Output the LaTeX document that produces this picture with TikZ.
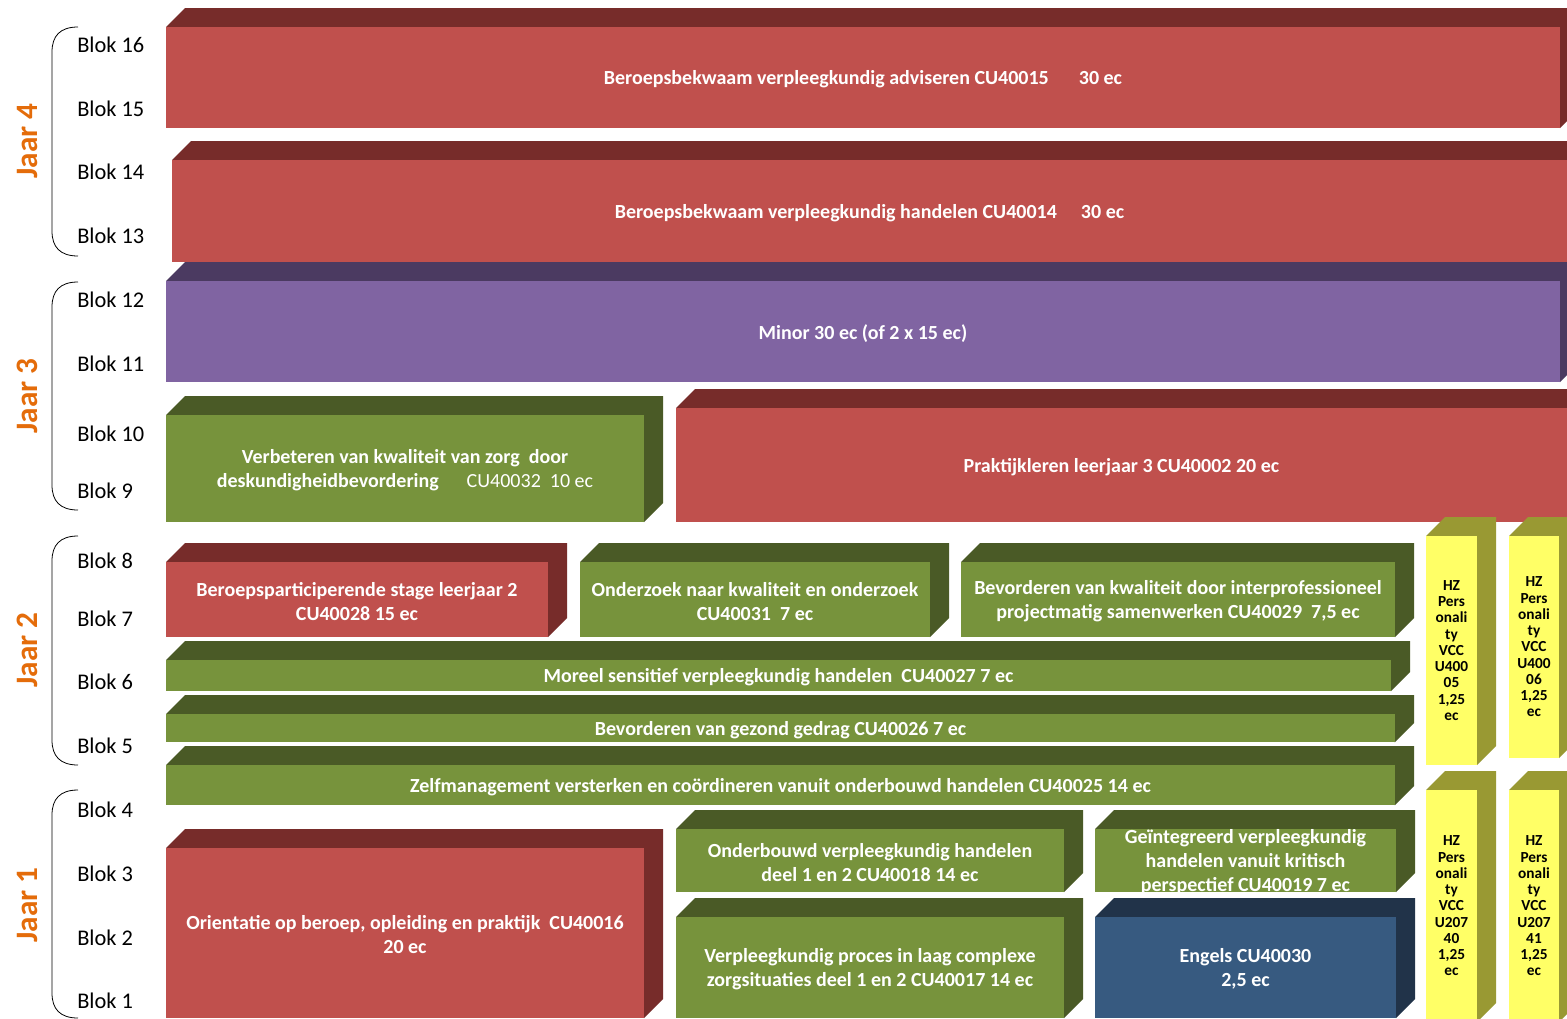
\documentclass[tikz,border=0pt]{standalone}
\usepackage{fontspec}
\setmainfont{Carlito}
\definecolor{red1}{HTML}{C0504D}
\definecolor{red2}{HTML}{772C2A}
\definecolor{grn1}{HTML}{77933C}
\definecolor{grn2}{HTML}{4A5A26}
\definecolor{pur1}{HTML}{8064A2}
\definecolor{pur2}{HTML}{4B3A61}
\definecolor{blu1}{HTML}{375A80}
\definecolor{blu2}{HTML}{213349}
\definecolor{yel1}{HTML}{FFFF66}
\definecolor{yel2}{HTML}{999933}
\definecolor{jaarc}{HTML}{E46C0A}
\tikzset{
  boxtext/.style={text=white, font=\bfseries\fontsize{15}{18}\selectfont, align=center, inner sep=0pt, yshift=-1.3pt},
  yeltext/.style={text=black, font=\bfseries\fontsize{11.5}{12.2}\selectfont, align=center, inner sep=0pt},
  bloklabel/.style={anchor=west, font=\fontsize{16.8}{18}\selectfont, inner sep=0pt},
  jaarlabel/.style={rotate=90, text=jaarc, font=\bfseries\fontsize{23.4}{25}\selectfont, inner sep=0pt},
  bracket/.style={draw=black, line width=0.6pt}
}
% name, x1, y1, x2, y2, front colour, dark colour, text style, text
\newcommand{\cubebox}[9]{%
  \fill[#7] (#2,#3) -- (#2+19,#3-19) -- (#4+19,#3-19) -- (#4+19,#5-19) -- (#4,#5) -- cycle;
  \fill[#6] (#2,#3) rectangle (#4,#5);
  \node[#8] (#1) at ({(#2+#4)/2},{(#3+#5)/2}) {#9};
}
\newcommand{\yearbracket}[2]{%
  \draw[bracket] (78,#1) .. controls (60,#1) and (52,#1+9) .. (52,#1+25) -- (52,#2-25) .. controls (52,#2-9) and (60,#2) .. (78,#2);
}
\begin{document}
\begin{tikzpicture}[x=0.75pt, y=-0.75pt]
\useasboundingbox (0,0) rectangle (1567,1018);
\clip (0,0) rectangle (1567,1018);
\fill[white] (0,0) rectangle (1567,1018);

% Year 4
\cubebox{adv}{166}{27}{1560}{128}{red1}{red2}{boxtext}{Beroepsbekwaam verpleegkundig adviseren CU40015\hspace{1.5em}30 ec}
\cubebox{hand}{172}{160}{1567}{262}{red1}{red2}{boxtext}{Beroepsbekwaam verpleegkundig handelen CU40014\hspace{1.2em}30 ec}
% Year 3
\cubebox{minor}{166}{281}{1560}{382}{pur1}{pur2}{boxtext}{Minor 30 ec (of 2 x 15 ec)}
\cubebox{verb}{166}{415}{644}{522}{grn1}{grn2}{boxtext}{Verbeteren van kwaliteit van zorg\ \ door\\deskundigheidbevordering\hspace{1.4em}{\mdseries CU40032\ \ 10 ec}}
\cubebox{prak}{676}{408}{1567}{522}{red1}{red2}{boxtext}{Praktijkleren leerjaar 3 CU40002 20 ec}
% Year 2
\cubebox{stage}{166}{562}{548}{637}{red1}{red2}{boxtext}{Beroepsparticiperende stage leerjaar 2\\CU40028 15 ec}
\cubebox{onderz}{580}{562}{930}{637}{grn1}{grn2}{boxtext}{Onderzoek naar kwaliteit en onderzoek\\CU40031\ \ 7 ec}
\cubebox{interp}{961}{562}{1395}{637}{grn1}{grn2}{boxtext}{Bevorderen van kwaliteit door interprofessioneel\\projectmatig samenwerken CU40029\ \ 7,5 ec}
\cubebox{moreel}{166}{660}{1391}{691}{grn1}{grn2}{boxtext}{Moreel sensitief verpleegkundig handelen\ \ CU40027 7 ec}
\cubebox{gezond}{166}{714}{1395}{742}{grn1}{grn2}{boxtext}{Bevorderen van gezond gedrag CU40026 7 ec}
\cubebox{zelf}{166}{765}{1395}{805}{grn1}{grn2}{boxtext}{Zelfmanagement versterken en coördineren vanuit onderbouwd handelen CU40025 14 ec}
\cubebox{hz1}{1426}{536}{1477}{765}{yel1}{yel2}{yeltext}{HZ\\Pers\\onali\\ty\\VCC\\U400\\05\\1,25\\ec}
\cubebox{hz2}{1509}{536}{1559}{758}{yel1}{yel2}{yeltext}{HZ\\Pers\\onali\\ty\\VCC\\U400\\06\\1,25\\ec}
% Year 1
\cubebox{orient}{166}{848}{644}{1018}{red1}{red2}{boxtext}{Orientatie op beroep, opleiding en praktijk\ \ CU40016\\20 ec}
\cubebox{onderb}{676}{829}{1064}{892}{grn1}{grn2}{boxtext}{Onderbouwd verpleegkundig handelen\\deel 1 en 2 CU40018 14 ec}
\cubebox{geint}{1095}{829}{1396}{892}{grn1}{grn2}{boxtext}{Geïntegreerd verpleegkundig\\handelen vanuit kritisch\\perspectief CU40019 7 ec}
\cubebox{proces}{676}{917}{1064}{1018}{grn1}{grn2}{boxtext}{Verpleegkundig proces in laag complexe\\zorgsituaties deel 1 en 2 CU40017 14 ec}
\cubebox{engels}{1095}{917}{1396}{1018}{blu1}{blu2}{boxtext}{Engels CU40030\\2,5 ec}
\cubebox{hz3}{1426}{790}{1477}{1022}{yel1}{yel2}{yeltext}{HZ\\Pers\\onali\\ty\\VCC\\U207\\40\\1,25\\ec}
\cubebox{hz4}{1509}{790}{1559}{1022}{yel1}{yel2}{yeltext}{HZ\\Pers\\onali\\ty\\VCC\\U207\\41\\1,25\\ec}

% brackets
\yearbracket{27}{256}
\yearbracket{282}{510}
\yearbracket{536}{765}
\yearbracket{790}{1018}

% year labels
\node[jaarlabel] (j4) at (27,141) {Jaar 4};
\node[jaarlabel] (j3) at (27,396) {Jaar 3};
\node[jaarlabel] (j2) at (27,650) {Jaar 2};
\node[jaarlabel] (j1) at (27,905) {Jaar 1};

% blok labels
\node[bloklabel] (b16) at (77,45) {Blok 16};
\node[bloklabel] (b15) at (77,109) {Blok 15};
\node[bloklabel] (b14) at (77,172) {Blok 14};
\node[bloklabel] (b13) at (77,236) {Blok 13};
\node[bloklabel] (b12) at (77,300) {Blok 12};
\node[bloklabel] (b11) at (77,364) {Blok 11};
\node[bloklabel] (b10) at (77,434) {Blok 10};
\node[bloklabel] (b9) at (77,491) {Blok 9};
\node[bloklabel] (b8) at (77,561) {Blok 8};
\node[bloklabel] (b7) at (77,619) {Blok 7};
\node[bloklabel] (b6) at (77,682) {Blok 6};
\node[bloklabel] (b5) at (77,746) {Blok 5};
\node[bloklabel] (b4) at (77,810) {Blok 4};
\node[bloklabel] (b3) at (77,874) {Blok 3};
\node[bloklabel] (b2) at (77,938) {Blok 2};
\node[bloklabel] (b1) at (77,1001) {Blok 1};
\end{tikzpicture}
\end{document}
